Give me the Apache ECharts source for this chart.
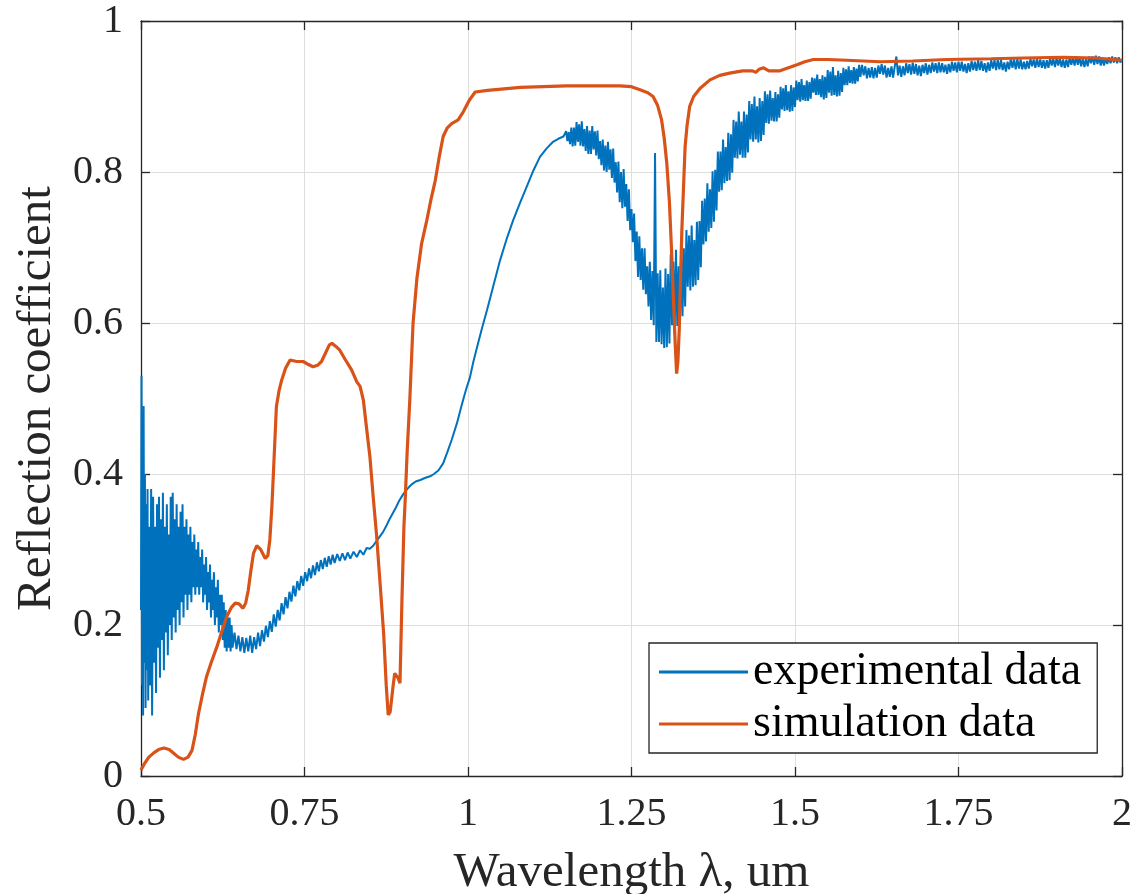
<!DOCTYPE html>
<html>
<head>
<meta charset="utf-8">
<script src="https://cdn.jsdelivr.net/npm/echarts@6/dist/echarts.min.js"></script>
<style>
html,body{margin:0;padding:0;background:#fff;}
#chart{width:1141px;height:894px;}
</style>
</head>
<body>
<div id="chart"></div>
<script>
// ---- axis ticks ----
const xTicks = [0.5, 0.75, 1, 1.25, 1.5, 1.75, 2];
const yTicks = [0, 0.2, 0.4, 0.6, 0.8, 1];
const seriesNames = ['experimental data', 'simulation data'];

// ---- experimental data [wavelength um, reflection] ----
const experimental = [
[0.5000,0.22],[0.5008,0.53],[0.5016,0.12],[0.5024,0.47],[0.5032,0.08],[0.5040,0.49],[0.5050,0.15],[0.5060,0.40],[0.5070,0.09],[0.5080,0.36],
[0.5090,0.14],[0.5100,0.38],[0.5110,0.10],[0.5125,0.33],[0.5140,0.12],[0.5155,0.38],[0.5170,0.08],[0.5185,0.37],[0.5200,0.15],[0.5215,0.33],
[0.5230,0.11],[0.5245,0.36],[0.5260,0.17],[0.5275,0.37],[0.5290,0.13],[0.5305,0.34],[0.5320,0.18],[0.5335,0.375],[0.5350,0.14],[0.5365,0.33],
[0.5380,0.19],[0.5395,0.36],[0.5410,0.16],[0.5425,0.32],[0.5440,0.20],[0.5455,0.37],[0.5470,0.18],[0.5485,0.375],[0.5500,0.21],[0.5515,0.34],
[0.5530,0.19],[0.5545,0.36],[0.5560,0.22],[0.5575,0.33],[0.5590,0.20],[0.5605,0.35],[0.5620,0.23],[0.5635,0.36],[0.5650,0.21],[0.5665,0.33],
[0.5680,0.24],[0.5695,0.34],[0.5710,0.22],[0.5725,0.32],[0.5740,0.24],[0.5755,0.33],[0.5770,0.23],[0.5785,0.31],[0.5800,0.25],[0.5815,0.32],
[0.5830,0.24],[0.5845,0.30],[0.5860,0.25],[0.5875,0.31],[0.5890,0.24],[0.5905,0.29],[0.5920,0.25],[0.5935,0.30],[0.5950,0.23],[0.5965,0.28],
[0.5980,0.24],[0.5995,0.29],[0.6010,0.22],[0.6025,0.27],[0.6040,0.23],[0.6055,0.28],[0.6070,0.21],[0.6085,0.26],[0.6100,0.22],[0.6115,0.27],
[0.6130,0.20],[0.6145,0.25],[0.6160,0.21],[0.6175,0.26],[0.6190,0.19],[0.6205,0.24],[0.6220,0.20],[0.6235,0.24],[0.6250,0.18],[0.6265,0.23],
[0.6280,0.17],[0.6295,0.22],[0.6310,0.165],[0.6325,0.21],[0.6340,0.17],[0.6355,0.21],[0.6370,0.165],[0.6385,0.20],[0.6400,0.17],
[0.643,0.19],[0.646,0.168],[0.649,0.186],[0.652,0.165],[0.655,0.184],[0.658,0.163],[0.661,0.183],[0.664,0.165],[0.667,0.186],[0.670,0.163],
[0.673,0.184],[0.676,0.168],[0.679,0.19],[0.682,0.172],[0.685,0.193],[0.688,0.178],[0.691,0.199],[0.694,0.184],[0.697,0.205],[0.700,0.191],
[0.703,0.214],[0.706,0.198],[0.709,0.22],[0.712,0.206],[0.715,0.229],[0.718,0.214],[0.721,0.237],[0.724,0.222],[0.727,0.244],[0.730,0.231],
[0.733,0.252],[0.736,0.238],[0.739,0.258],[0.742,0.246],[0.745,0.265],[0.748,0.252],[0.751,0.27],[0.754,0.258],[0.757,0.275],[0.760,0.262],
[0.763,0.279],[0.766,0.266],[0.769,0.283],[0.772,0.271],[0.775,0.286],[0.778,0.274],[0.781,0.289],[0.784,0.277],[0.787,0.291],[0.790,0.28],
[0.793,0.293],[0.796,0.282],[0.800,0.294],[0.804,0.285],[0.808,0.295],[0.812,0.286],[0.816,0.296],[0.820,0.288],[0.825,0.297],[0.830,0.290],
[0.835,0.299],[0.840,0.293],[0.845,0.302],[0.850,0.301],
[0.855,0.305],[0.860,0.311],[0.865,0.317],[0.870,0.323],[0.875,0.331],[0.880,0.340],[0.885,0.348],[0.890,0.356],[0.895,0.365],[0.900,0.372],
[0.905,0.378],[0.910,0.383],[0.915,0.387],[0.920,0.390],[0.927,0.392],[0.935,0.395],[0.942,0.397],[0.948,0.400],[0.955,0.405],[0.962,0.414],
[0.968,0.428],[0.975,0.445],[0.983,0.467],[0.990,0.490],[0.997,0.512],[1.003,0.528],[1.008,0.548],[1.015,0.572],[1.022,0.595],[1.029,0.617],
[1.039,0.650],[1.049,0.683],[1.059,0.711],[1.069,0.736],[1.080,0.760],[1.090,0.781],[1.100,0.802],[1.110,0.820],[1.120,0.831],[1.130,0.840],
[1.138,0.844],[1.146,0.847],
[1.150,0.854],[1.152,0.841],[1.154,0.853],[1.156,0.837],[1.158,0.859],[1.160,0.834],[1.162,0.859],[1.164,0.835],[1.166,0.866],[1.168,0.840],
[1.170,0.863],[1.172,0.835],[1.174,0.867],[1.176,0.834],[1.178,0.857],[1.180,0.828],[1.182,0.861],[1.184,0.824],[1.186,0.855],[1.188,0.824],
[1.190,0.861],[1.192,0.830],[1.194,0.854],[1.196,0.822],[1.198,0.855],[1.200,0.817],[1.202,0.841],[1.204,0.809],[1.206,0.843],[1.208,0.802],
[1.210,0.835],[1.212,0.800],[1.214,0.840],[1.216,0.803],[1.218,0.830],[1.220,0.792],[1.222,0.831],[1.224,0.786],[1.226,0.813],[1.228,0.773],
[1.230,0.814],[1.232,0.760],[1.234,0.800],[1.236,0.752],[1.238,0.804],[1.240,0.754],[1.242,0.784],[1.244,0.735],[1.246,0.777],[1.248,0.723],
[1.250,0.751],[1.252,0.707],[1.254,0.745],[1.256,0.682],[1.258,0.721],[1.260,0.661],[1.262,0.715],[1.264,0.657],[1.266,0.699],[1.268,0.644],
[1.270,0.699],[1.272,0.638],[1.274,0.675],[1.276,0.622],[1.278,0.681],[1.280,0.604],[1.282,0.669],[1.284,0.597],[1.286,0.825],[1.288,0.575],
[1.290,0.666],[1.292,0.575],[1.294,0.670],[1.296,0.572],[1.298,0.647],[1.300,0.567],[1.302,0.672],[1.304,0.568],[1.306,0.665],[1.308,0.573],
[1.310,0.691],[1.312,0.597],[1.314,0.681],[1.316,0.585],[1.318,0.697],[1.320,0.596],[1.322,0.675],[1.324,0.599],[1.326,0.702],[1.328,0.609],
[1.330,0.699],[1.332,0.622],[1.334,0.723],[1.336,0.648],[1.338,0.716],[1.340,0.643],[1.342,0.729],[1.344,0.648],[1.346,0.710],[1.348,0.650],
[1.350,0.734],[1.352,0.657],[1.354,0.735],[1.356,0.674],[1.358,0.762],[1.360,0.704],[1.362,0.765],[1.364,0.708],[1.366,0.785],[1.368,0.721],
[1.370,0.777],[1.372,0.726],[1.374,0.801],[1.376,0.734],[1.378,0.803],[1.380,0.749],[1.382,0.827],[1.384,0.774],[1.386,0.827],[1.388,0.776],
[1.390,0.843],[1.392,0.785],[1.394,0.833],[1.396,0.788],[1.398,0.852],[1.400,0.789],[1.402,0.850],[1.404,0.799],[1.406,0.869],[1.408,0.819],
[1.410,0.867],[1.412,0.818],[1.414,0.880],[1.416,0.823],[1.418,0.867],[1.420,0.819],[1.422,0.880],[1.424,0.819],[1.426,0.876],[1.428,0.826],
[1.430,0.894],[1.432,0.843],[1.434,0.890],[1.436,0.840],[1.438,0.900],[1.440,0.843],[1.442,0.887],[1.444,0.839],[1.446,0.898],[1.448,0.841],
[1.450,0.894],[1.452,0.849],[1.454,0.907],[1.456,0.865],[1.458,0.903],[1.460,0.864],[1.462,0.908],[1.464,0.868],[1.466,0.898],[1.468,0.867],
[1.470,0.906],[1.472,0.867],[1.474,0.903],[1.476,0.872],[1.478,0.913],[1.480,0.883],[1.482,0.911],[1.484,0.881],[1.486,0.915],[1.488,0.882],
[1.490,0.907],[1.492,0.880],[1.494,0.915],[1.496,0.881],[1.498,0.912],[1.500,0.886],[1.502,0.921],[1.504,0.895],[1.506,0.919],[1.508,0.893],
[1.510,0.923],[1.512,0.895],[1.514,0.915],[1.516,0.894],[1.518,0.921],[1.520,0.894],[1.522,0.919],[1.524,0.897],[1.526,0.925],[1.528,0.905],
[1.530,0.924],[1.532,0.902],[1.534,0.929],[1.536,0.902],[1.538,0.923],[1.540,0.899],[1.542,0.928],[1.544,0.896],[1.546,0.926],[1.548,0.898],
[1.550,0.935],[1.552,0.905],[1.554,0.933],[1.556,0.901],[1.558,0.939],[1.560,0.902],[1.562,0.928],[1.564,0.900],[1.566,0.934],[1.568,0.901],
[1.570,0.931],[1.572,0.906],[1.574,0.938],[1.576,0.915],[1.578,0.936],[1.580,0.915],[1.582,0.940],[1.584,0.918],[1.586,0.935],[1.588,0.917],
[1.590,0.939],[1.592,0.917],[1.594,0.937],[1.596,0.920],[1.598,0.942],[1.600,0.926],
[1.6025,0.942],[1.6050,0.928],[1.6075,0.940],[1.6100,0.924],[1.6125,0.938],[1.6150,0.925],[1.6175,0.939],[1.6200,0.924],[1.6225,0.938],[1.6250,0.925],
[1.6275,0.941],[1.6300,0.930],[1.6325,0.943],[1.6350,0.929],[1.6375,0.941],[1.6400,0.925],[1.6425,0.938],[1.6450,0.926],[1.6475,0.940],[1.6500,0.925],
[1.6525,0.940],[1.6550,0.953],[1.6575,0.928],[1.6600,0.941],[1.6625,0.926],[1.6650,0.940],[1.6675,0.928],[1.6700,0.944],[1.6725,0.931],[1.6750,0.943],
[1.6775,0.929],[1.6800,0.945],[1.6825,0.930],[1.6850,0.943],[1.6875,0.928],[1.6900,0.941],[1.6925,0.927],[1.6950,0.942],[1.6975,0.931],[1.7000,0.944],
[1.7025,0.929],[1.7050,0.942],[1.7075,0.931],[1.7100,0.945],[1.7125,0.933],[1.7150,0.944],[1.7175,0.931],[1.7200,0.945],[1.7225,0.932],[1.7250,0.944],
[1.7275,0.932],[1.7300,0.942],[1.7325,0.930],[1.7350,0.943],[1.7375,0.932],[1.7400,0.946],[1.7425,0.934],[1.7450,0.945],[1.7475,0.932],[1.7500,0.946],
[1.7525,0.934],[1.7550,0.946],[1.7575,0.933],[1.7600,0.943],[1.7625,0.931],[1.7650,0.944],[1.7675,0.933],[1.7700,0.947],[1.7725,0.935],[1.7750,0.946],
[1.7775,0.934],[1.7800,0.948],[1.7825,0.935],[1.7850,0.947],[1.7875,0.934],[1.7900,0.944],[1.7925,0.932],[1.7950,0.945],[1.7975,0.934],[1.8000,0.948],
[1.8025,0.937],[1.8050,0.948],[1.8075,0.935],[1.8100,0.949],[1.8125,0.936],[1.8150,0.948],[1.8175,0.935],[1.8200,0.945],[1.8225,0.933],[1.8250,0.946],
[1.8275,0.936],[1.8300,0.950],[1.8325,0.938],[1.8350,0.949],[1.8375,0.936],[1.8400,0.950],[1.8425,0.937],[1.8450,0.949],[1.8475,0.936],[1.8500,0.946],
[1.8525,0.936],[1.8550,0.947],[1.8575,0.937],[1.8600,0.950],[1.8625,0.940],[1.8650,0.949],[1.8675,0.938],[1.8700,0.950],[1.8725,0.939],[1.8750,0.949],
[1.8775,0.938],[1.8800,0.948],[1.8825,0.937],[1.8850,0.948],[1.8875,0.938],[1.8900,0.951],[1.8925,0.941],[1.8950,0.950],[1.8975,0.939],[1.9000,0.951],
[1.9025,0.941],[1.9050,0.951],[1.9075,0.939],[1.9100,0.949],[1.9125,0.938],[1.9150,0.949],[1.9175,0.939],[1.9200,0.952],[1.9225,0.942],[1.9250,0.951],
[1.9275,0.941],[1.9300,0.953],[1.9325,0.942],[1.9350,0.952],[1.9375,0.940],[1.9400,0.950],[1.9425,0.939],[1.9450,0.950],[1.9475,0.940],[1.9500,0.953],
[1.9525,0.944],[1.9550,0.953],[1.9575,0.942],[1.9600,0.954],[1.9625,0.943],[1.9650,0.953],[1.9675,0.941],[1.9700,0.951],[1.9725,0.941],[1.9750,0.951],
[1.9775,0.943],[1.9800,0.952],[1.9825,0.944],[1.9850,0.953],[1.9875,0.945],[1.9900,0.952],[1.9925,0.944],[1.9950,0.952],[1.9975,0.945],[2.0000,0.949]
];

// ---- simulation data [wavelength um, reflection] ----
const simulation = [
[0.500,0.008],[0.505,0.016],[0.512,0.025],[0.520,0.031],[0.527,0.035],[0.535,0.037],[0.543,0.035],[0.550,0.030],[0.557,0.025],[0.565,0.022],
[0.572,0.025],[0.578,0.034],[0.583,0.055],[0.588,0.083],[0.594,0.108],[0.600,0.131],[0.608,0.152],[0.616,0.171],[0.623,0.190],[0.631,0.211],
[0.638,0.223],[0.644,0.229],[0.650,0.228],[0.656,0.222],[0.660,0.229],[0.664,0.246],[0.668,0.272],[0.672,0.295],[0.677,0.305],[0.683,0.300],
[0.690,0.288],[0.694,0.292],[0.697,0.313],[0.700,0.355],[0.702,0.392],[0.705,0.450],[0.707,0.489],[0.711,0.510],[0.715,0.524],[0.721,0.540],
[0.728,0.551],[0.738,0.549],[0.748,0.549],[0.756,0.545],[0.763,0.542],[0.770,0.544],[0.776,0.549],[0.782,0.560],[0.788,0.571],[0.792,0.573],
[0.798,0.569],[0.804,0.564],[0.812,0.552],[0.822,0.538],[0.830,0.522],[0.835,0.516],[0.840,0.498],[0.845,0.460],[0.850,0.423],[0.855,0.370],
[0.860,0.321],[0.866,0.250],[0.871,0.189],[0.875,0.120],[0.878,0.081],[0.881,0.085],[0.884,0.108],[0.886,0.123],[0.888,0.136],[0.891,0.136],
[0.893,0.130],[0.896,0.123],[0.899,0.233],[0.902,0.330],[0.904,0.366],[0.907,0.430],[0.911,0.498],[0.916,0.600],[0.922,0.660],[0.929,0.705],
[0.937,0.736],[0.943,0.762],[0.950,0.789],[0.956,0.820],[0.962,0.847],[0.968,0.858],[0.975,0.864],[0.985,0.869],[0.993,0.880],[1.002,0.895],
[1.011,0.906],[1.030,0.908],[1.080,0.912],[1.150,0.914],[1.232,0.914],[1.250,0.913],[1.263,0.909],[1.275,0.905],[1.283,0.900],[1.290,0.888],
[1.296,0.869],[1.300,0.845],[1.304,0.811],[1.308,0.760],[1.311,0.701],[1.314,0.635],[1.317,0.569],[1.319,0.533],[1.321,0.550],[1.323,0.591],
[1.325,0.660],[1.327,0.723],[1.330,0.790],[1.332,0.834],[1.335,0.862],[1.339,0.887],[1.345,0.900],[1.355,0.911],[1.370,0.922],[1.385,0.928],
[1.400,0.931],[1.420,0.934],[1.435,0.934],[1.440,0.932],[1.445,0.936],[1.452,0.938],[1.460,0.934],[1.470,0.934],[1.477,0.934],[1.490,0.938],
[1.503,0.942],[1.515,0.946],[1.528,0.949],[1.550,0.949],[1.579,0.948],[1.630,0.946],[1.680,0.947],[1.732,0.949],[1.800,0.950],[1.850,0.951],
[1.910,0.952],[1.960,0.951],[2.000,0.948]
];

const FONT = 'Liberation Serif';
const AX = '#262626';

const chart = echarts.init(document.getElementById('chart'), null, {renderer: 'canvas'});
const fmt = v => String(parseFloat(v.toFixed(2)));
chart.setOption({
  animation: false,
  backgroundColor: '#ffffff',
  grid: {left: 141, right: 19, top: 21, bottom: 118, containLabel: false, outerBoundsMode: 'none'},
  legend: {
    orient: 'vertical', left: 649, top: 643,
    padding: [6, 16, 6, 10],
    icon: 'rect',
    itemWidth: 89, itemHeight: 3, itemGap: 6, itemTextGap: 7,
    borderColor: AX, borderWidth: 1.3, backgroundColor: '#ffffff',
    textStyle: {fontFamily: FONT, fontSize: 46, color: '#000'},
    data: seriesNames
  },
  xAxis: [{
    type: 'value', min: xTicks[0], max: xTicks[xTicks.length - 1], interval: 0.25,
    name: 'Wavelength λ, um', nameLocation: 'middle', nameGap: 73,
    nameTextStyle: {fontFamily: FONT, fontSize: 49, color: AX},
    axisLine: {show: true, onZero: false, lineStyle: {color: AX, width: 1.3}},
    axisTick: {show: true, inside: true, length: 9, lineStyle: {color: AX, width: 1.3}},
    axisLabel: {fontFamily: FONT, fontSize: 40, color: AX, margin: 18, formatter: fmt},
    splitLine: {show: true, lineStyle: {color: '#dedede', width: 1}}
  }, {
    type: 'value', position: 'top', min: xTicks[0], max: xTicks[xTicks.length - 1], interval: 0.25,
    axisLine: {show: true, onZero: false, lineStyle: {color: AX, width: 1.3}},
    axisTick: {show: true, inside: true, length: 9, lineStyle: {color: AX, width: 1.3}},
    axisLabel: {show: false}, splitLine: {show: false}
  }],
  yAxis: [{
    type: 'value', min: yTicks[0], max: yTicks[yTicks.length - 1], interval: 0.2,
    name: 'Reflection coefficient', nameLocation: 'middle', nameGap: 78,
    nameTextStyle: {fontFamily: FONT, fontSize: 49, color: AX},
    axisLine: {show: true, onZero: false, lineStyle: {color: AX, width: 1.3}},
    axisTick: {show: true, inside: true, length: 9, lineStyle: {color: AX, width: 1.3}},
    axisLabel: {fontFamily: FONT, fontSize: 40, color: AX, margin: 18, formatter: fmt},
    splitLine: {show: true, lineStyle: {color: '#dedede', width: 1}}
  }, {
    type: 'value', position: 'right', min: yTicks[0], max: yTicks[yTicks.length - 1], interval: 0.2,
    axisLine: {show: true, onZero: false, lineStyle: {color: AX, width: 1.3}},
    axisTick: {show: true, inside: true, length: 9, lineStyle: {color: AX, width: 1.3}},
    axisLabel: {show: false}, splitLine: {show: false}
  }],
  series: [{
    name: seriesNames[0], type: 'line', data: experimental, xAxisIndex: 0, yAxisIndex: 0,
    symbol: 'none', smooth: false, clip: true,
    lineStyle: {color: '#0072BD', width: 2}, itemStyle: {color: '#0072BD'}, z: 2
  }, {
    name: seriesNames[1], type: 'line', data: simulation, xAxisIndex: 0, yAxisIndex: 0,
    symbol: 'none', smooth: false, clip: true,
    lineStyle: {color: '#D95319', width: 3.2}, itemStyle: {color: '#D95319'}, z: 3
  }]
});
</script>
</body>
</html>
